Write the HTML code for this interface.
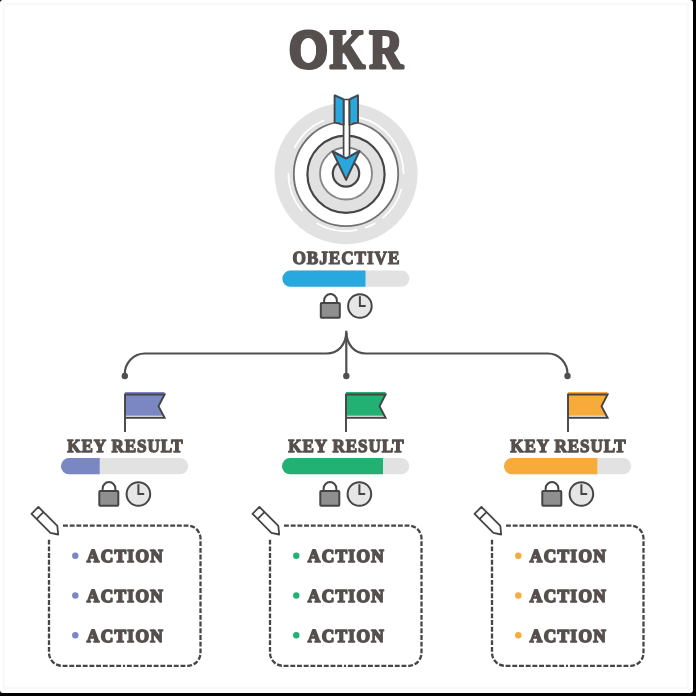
<!DOCTYPE html>
<html><head><meta charset="utf-8">
<style>
html,body{margin:0;padding:0;background:#000;width:696px;height:696px;overflow:hidden}
svg{display:block;will-change:transform}
text{text-rendering:geometricPrecision;font-family:"Liberation Serif",serif;font-weight:bold;fill:#55504e;stroke:#55504e;stroke-linejoin:round}
</style></head><body>
<svg width="696" height="696" viewBox="0 0 696 696">
<defs>
 <g id="lockclock">
  <path d="M5.15 10.1 V7.45 A6.35 6.35 0 0 1 17.85 7.45 V10.1" fill="none" stroke="#474444" stroke-width="2"/>
  <rect x="1.8" y="10.1" width="19" height="14.7" rx="0.8" fill="#8f8f8f" stroke="#474444" stroke-width="2"/>
  <circle cx="40.9" cy="13" r="11.8" fill="#e6e6e6" stroke="#474444" stroke-width="2"/>
  <path d="M40.9 3.3 V13 H46.7" fill="none" stroke="#474444" stroke-width="2"/>
 </g>
</defs>
<rect x="0" y="0" width="693" height="693" rx="3" fill="#fff"/>
<rect x="3.6" y="3.9" width="684" height="684.4" fill="none" stroke="#f9f9f9" stroke-width="2.5"/>
<text transform="matrix(0.9141 0 0.0002 1 288.58 68.20)" font-size="55.90" style="stroke-width:3.00px">O</text>
<text transform="matrix(0.8139 0 0.0002 1 329.84 68.20)" font-size="55.90" style="stroke-width:3.00px">K</text>
<text transform="matrix(0.8344 0 0.0002 1 369.15 68.20)" font-size="55.90" style="stroke-width:3.00px">R</text>
<ellipse cx="308.3" cy="50.4" rx="9.7" ry="14" fill="none" stroke="#55504e" stroke-width="3"/>
<g>
 <ellipse cx="346.1" cy="173.6" rx="71.5" ry="70.6" fill="#e2e2e2"/>
 <path d="M294.7 147.4 A57.6 57.6 0 0 1 323.5 120.5 M359.0 117.4 A57.6 57.6 0 0 1 403.6 173.5 M401.4 189.4 A57.6 57.6 0 0 1 383.0 217.6 M374.8 223.4 A57.6 57.6 0 0 1 365.7 227.6 M357.0 230.0 A57.6 57.6 0 0 1 317.2 223.4 M301.9 210.5 A57.6 57.6 0 0 1 288.4 173.5" fill="none" stroke="#fff" stroke-width="1.7" stroke-linecap="round"/>
 <circle cx="346" cy="173.9" r="52.2" fill="#fff" stroke="#727070" stroke-width="1.8"/>
 <circle cx="346" cy="174.3" r="38.6" fill="#e1e1e1" stroke="#474444" stroke-width="2.2"/>
 <circle cx="346" cy="173.5" r="26" fill="#fff" stroke="#858585" stroke-width="1.8"/>
 <circle cx="346" cy="173.5" r="13.2" fill="#e1e1e1" stroke="#474444" stroke-width="2.2"/>
 <path d="M343.6 99.5 V158 H349.5 V99.5 Z" fill="#fff" stroke="#474444" stroke-width="1.7"/>
 <path d="M334.6 94 L343.6 98 V123.5 L334.6 121 Z M358 94 L349.5 98 V123.5 L358 121 Z" fill="#29a8e0"/>
 <path d="M334.6 95.5 L343.6 99.5 V124.8 L334.6 122.4 Z M358 95.5 L349.5 99.5 V124.8 L358 122.4 Z" fill="none" stroke="#474444" stroke-width="1.9" stroke-linejoin="round"/>
 <path d="M332.6 150 L346.1 157 L359.5 149.6 L346.1 178 Z" fill="#29a8e0"/>
 <path d="M332.6 151.5 L346.1 158.6 L359.5 151.1 L346.1 179.9 Z" fill="#29a8e0" stroke="#474444" stroke-width="2.0" stroke-linejoin="round"/>
</g>
<text transform="matrix(0.9300 0 0.0002 1 292.50 264.30)" x="0" y="0" font-size="18.60" textLength="115.05" lengthAdjust="spacing" style="stroke-width:1.20px">OBJECTIVE</text>
<rect x="282.4" y="270.6" width="127" height="16.2" rx="8.1" fill="#e2e2e2"/>
<path d="M290.5 270.6 H365.5 V286.8 H290.5 A8.1 8.1 0 0 1 290.5 270.6 Z" fill="#29a8e0"/>
<use href="#lockclock" x="319" y="293"/>
<g fill="none" stroke="#4f4f4f" stroke-width="2.2">
 <path d="M124.8 376 V374 A20 20.5 0 0 1 144.8 353.5 H326.6 C338 353.5 346.3 345 346.3 330.8 C346.3 345 354.6 353.5 366 353.5 H548 A19.5 20.5 0 0 1 567.5 374 V376"/>
 <path d="M346.3 333 V376"/>
</g>
<g fill="#4f4f4f">
 <circle cx="124.8" cy="376" r="3.2"/>
 <circle cx="346.3" cy="376" r="3.2"/>
 <circle cx="567.5" cy="376" r="3.2"/>
</g>
<g transform="translate(0 0)">
 <path d="M125 391.9 H164.6 V394.5 L158.5 406.2 L163.6 415.8 H125 Z" fill="#7b87c3"/>
 <path d="M125 432 V394.5 H164.6 L158.5 406.2 L164.6 417.8 H125" fill="none" stroke="#474444" stroke-width="1.9"/>
 <text transform="matrix(0.9300 0 0.0002 1 67.30 452.30)" x="0" y="0" font-size="18.40" textLength="124.19" lengthAdjust="spacing" style="stroke-width:1.30px">KEY RESULT</text>
 <rect x="61" y="458.1" width="127.2" height="16.2" rx="8.1" fill="#e2e2e2"/>
 <path d="M69.1 458.1 H99.7 V474.3 H69.1 A8.1 8.1 0 0 1 69.1 458.1 Z" fill="#7b87c3"/>
 <use href="#lockclock" x="97.5" y="481"/>
</g>
<g transform="translate(221 0)">
 <path d="M125 391.9 H164.6 V394.5 L158.5 406.2 L163.6 415.8 H125 Z" fill="#23b073"/>
 <path d="M125 432 V394.5 H164.6 L158.5 406.2 L164.6 417.8 H125" fill="none" stroke="#474444" stroke-width="1.9"/>
 <text transform="matrix(0.9300 0 0.0002 1 67.30 452.30)" x="0" y="0" font-size="18.40" textLength="124.19" lengthAdjust="spacing" style="stroke-width:1.30px">KEY RESULT</text>
 <rect x="61" y="458.1" width="127.2" height="16.2" rx="8.1" fill="#e2e2e2"/>
 <path d="M69.1 458.1 H162.0 V474.3 H69.1 A8.1 8.1 0 0 1 69.1 458.1 Z" fill="#23b073"/>
 <use href="#lockclock" x="97.5" y="481"/>
</g>
<g transform="translate(443 0)">
 <path d="M125 391.9 H164.6 V394.5 L158.5 406.2 L163.6 415.8 H125 Z" fill="#f7ab3b"/>
 <path d="M125 432 V394.5 H164.6 L158.5 406.2 L164.6 417.8 H125" fill="none" stroke="#474444" stroke-width="1.9"/>
 <text transform="matrix(0.9300 0 0.0002 1 67.30 452.30)" x="0" y="0" font-size="18.40" textLength="124.19" lengthAdjust="spacing" style="stroke-width:1.30px">KEY RESULT</text>
 <rect x="61" y="458.1" width="127.2" height="16.2" rx="8.1" fill="#e2e2e2"/>
 <path d="M69.1 458.1 H154.3 V474.3 H69.1 A8.1 8.1 0 0 1 69.1 458.1 Z" fill="#f7ab3b"/>
 <use href="#lockclock" x="97.5" y="481"/>
</g>
<g transform="translate(0 0)">
 <path d="M63 525.6 H187.5 A13 13 0 0 1 200.5 538.6 V652.8 A13 13 0 0 1 187.5 665.8 H125 M49 539.7 V652.8 A13 13 0 0 0 62 665.8 H125" fill="none" stroke="#474545" stroke-width="2.3" stroke-dasharray="4.9 1.8"/>
 <path d="M38.4 506.9 L31.5 513.8 L50.4 532.8 L58.2 534.5 L57.3 525.9 Z M43.2 512.3 L37.2 518.4" fill="none" stroke="#474444" stroke-width="1.8" stroke-linejoin="round"/>
 <text transform="matrix(0.9500 0 0.0002 1 86.80 562.10)" font-size="18.30" textLength="80.00" lengthAdjust="spacing" style="stroke-width:1.70px">ACTION</text><text transform="matrix(0.9500 0 0.0002 1 86.80 601.80)" font-size="18.30" textLength="80.00" lengthAdjust="spacing" style="stroke-width:1.70px">ACTION</text><text transform="matrix(0.9500 0 0.0002 1 86.80 641.50)" font-size="18.30" textLength="80.00" lengthAdjust="spacing" style="stroke-width:1.70px">ACTION</text>
 <g fill="#7b87c3"><circle cx="75.3" cy="555.80" r="3.2"/><circle cx="75.3" cy="595.50" r="3.2"/><circle cx="75.3" cy="635.20" r="3.2"/></g>
</g>
<g transform="translate(221 0)">
 <path d="M63 525.6 H187.5 A13 13 0 0 1 200.5 538.6 V652.8 A13 13 0 0 1 187.5 665.8 H125 M49 539.7 V652.8 A13 13 0 0 0 62 665.8 H125" fill="none" stroke="#474545" stroke-width="2.3" stroke-dasharray="4.9 1.8"/>
 <path d="M38.4 506.9 L31.5 513.8 L50.4 532.8 L58.2 534.5 L57.3 525.9 Z M43.2 512.3 L37.2 518.4" fill="none" stroke="#474444" stroke-width="1.8" stroke-linejoin="round"/>
 <text transform="matrix(0.9500 0 0.0002 1 86.80 562.10)" font-size="18.30" textLength="80.00" lengthAdjust="spacing" style="stroke-width:1.70px">ACTION</text><text transform="matrix(0.9500 0 0.0002 1 86.80 601.80)" font-size="18.30" textLength="80.00" lengthAdjust="spacing" style="stroke-width:1.70px">ACTION</text><text transform="matrix(0.9500 0 0.0002 1 86.80 641.50)" font-size="18.30" textLength="80.00" lengthAdjust="spacing" style="stroke-width:1.70px">ACTION</text>
 <g fill="#23b073"><circle cx="75.3" cy="555.80" r="3.2"/><circle cx="75.3" cy="595.50" r="3.2"/><circle cx="75.3" cy="635.20" r="3.2"/></g>
</g>
<g transform="translate(443 0)">
 <path d="M63 525.6 H187.5 A13 13 0 0 1 200.5 538.6 V652.8 A13 13 0 0 1 187.5 665.8 H125 M49 539.7 V652.8 A13 13 0 0 0 62 665.8 H125" fill="none" stroke="#474545" stroke-width="2.3" stroke-dasharray="4.9 1.8"/>
 <path d="M38.4 506.9 L31.5 513.8 L50.4 532.8 L58.2 534.5 L57.3 525.9 Z M43.2 512.3 L37.2 518.4" fill="none" stroke="#474444" stroke-width="1.8" stroke-linejoin="round"/>
 <text transform="matrix(0.9500 0 0.0002 1 86.80 562.10)" font-size="18.30" textLength="80.00" lengthAdjust="spacing" style="stroke-width:1.70px">ACTION</text><text transform="matrix(0.9500 0 0.0002 1 86.80 601.80)" font-size="18.30" textLength="80.00" lengthAdjust="spacing" style="stroke-width:1.70px">ACTION</text><text transform="matrix(0.9500 0 0.0002 1 86.80 641.50)" font-size="18.30" textLength="80.00" lengthAdjust="spacing" style="stroke-width:1.70px">ACTION</text>
 <g fill="#f7ab3b"><circle cx="75.3" cy="555.80" r="3.2"/><circle cx="75.3" cy="595.50" r="3.2"/><circle cx="75.3" cy="635.20" r="3.2"/></g>
</g>
</svg>
</body></html>
